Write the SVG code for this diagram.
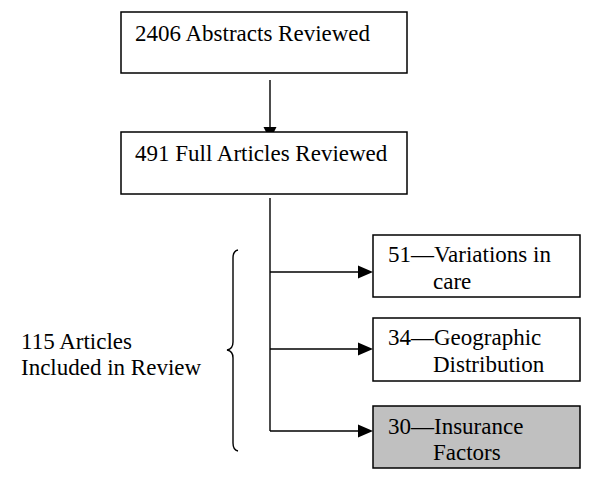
<svg xmlns="http://www.w3.org/2000/svg" width="600" height="485" viewBox="0 0 600 485">
<style>
.box{fill:#fff;stroke:#000;stroke-width:1.5}
.grey{fill:#c0c0c0}
.t{font-family:"Liberation Serif","Times New Roman",serif;font-size:23px;fill:#000}
.ln{stroke:#000;stroke-width:1.4;fill:none}
.ah{fill:#000}
</style>
<g id="connectors">
<line class="ln" x1="270" y1="80" x2="270" y2="130"/>
<polygon class="ah" points="263.5,127 276.5,127 270,140"/>
<line class="ln" x1="270" y1="198" x2="270" y2="431"/>
<line class="ln" x1="270" y1="272" x2="360" y2="272"/>
<polygon class="ah" points="358,265.5 373,272 358,278.5"/>
<line class="ln" x1="270" y1="349" x2="360" y2="349"/>
<polygon class="ah" points="358,342.5 373,349 358,355.5"/>
<line class="ln" x1="270" y1="431" x2="360" y2="431"/>
<polygon class="ah" points="358,424.5 373,431 358,437.5"/>
</g>
<g id="n1"><rect class="box" x="121" y="12" width="286" height="61"/><text class="t" x="135" y="41">2406 Abstracts Reviewed</text></g>
<g id="n2"><rect class="box" x="121" y="132" width="286" height="62"/><text class="t" x="135" y="161">491 Full Articles Reviewed</text></g>
<g id="n3"><rect class="box" x="373" y="235" width="207" height="62"/><text class="t" x="388" y="262">51—Variations in</text><text class="t" x="433" y="289">care</text></g>
<g id="n4"><rect class="box" x="373" y="318" width="207" height="63"/><text class="t" x="388" y="345">34—Geographic</text><text class="t" x="433" y="372">Distribution</text></g>
<g id="n5"><rect class="box grey" x="373" y="406" width="207" height="62"/><text class="t" x="388" y="434">30—Insurance</text><text class="t" x="433" y="460">Factors</text></g>
<g id="label">
<path class="ln" d="M238,250 Q233,251 233,258 L233,342 Q233,349 227,350 Q233,351 233,358 L233,443 Q233,450 238,451"/>
<text class="t" x="21" y="349">115 Articles</text>
<text class="t" x="21" y="375">Included in Review</text>
</g>
</svg>
